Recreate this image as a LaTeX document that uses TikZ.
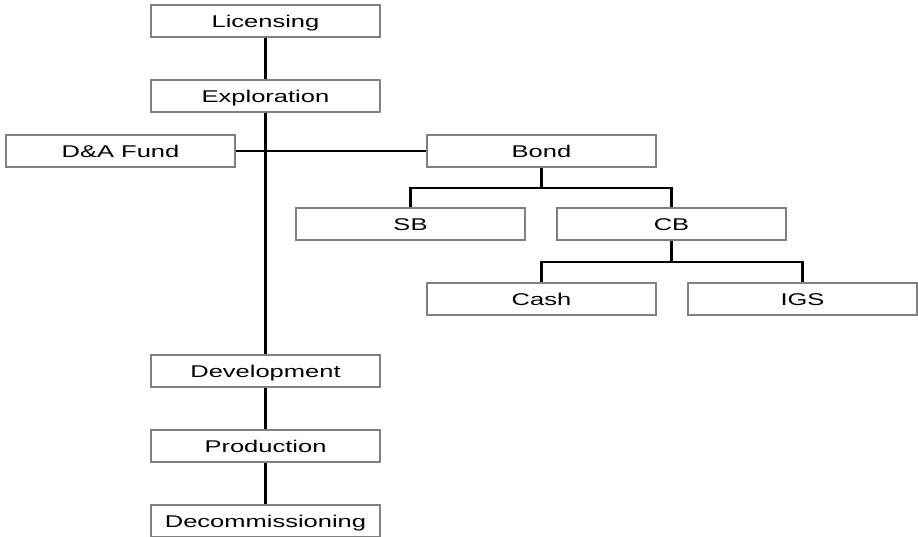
\documentclass[tikz,border=0pt]{standalone}
\usepackage{fontspec}
\newfontfamily\boxfont[FakeStretch=1.5]{Liberation Sans}
\usetikzlibrary{calc}
\tikzset{
  stage/.style={draw=black!50, line width=2pt, fill=white, minimum width=229pt, minimum height=32pt, inner sep=0pt, text height=13pt, text depth=0pt, font=\boxfont\fontsize{17}{19}\selectfont},
  link/.style={line width=2.3pt, color=black}
}

\begin{document}
\begin{tikzpicture}[x=1pt, y=-1pt]
			%%%%% START %%%%%
			
			\useasboundingbox (0, 0) rectangle (918, 536);
			
			\node[stage] (licensing) at (265.5, 20.5) {Licensing};
			\node[stage] (exploration) at (265.5, 95.5) {Exploration};
			\node[stage] (fund) at (120.5, 151) {D\&A Fund};
			\node[stage] (bond) at (541.5, 151) {Bond};
			\node[stage] (sb) at (410.5, 224) {SB};
			\node[stage] (cb) at (671.5, 224) {CB};
			\node[stage] (cash) at (541.5, 299) {Cash};
			\node[stage] (igs) at (802.5, 299) {IGS};
			\node[stage] (development) at (265.5, 371) {Development};
			\node[stage] (production) at (265.5, 446) {Production};
			\node[stage] (decommissioning) at (265.5, 521) {Decommissioning};
			
			\draw[link] (licensing) -- (exploration);
			\draw[link] (exploration) -- (development);
			\draw[link] (development) -- (production);
			\draw[link] (production) -- (decommissioning);
			\draw[link] (fund) -- (bond);
			
			\draw[link] (bond.south) -- ++(0, 20) coordinate (bondsplit) -| (sb.north);
			\draw[link] (bondsplit) -| (cb.north);
			\draw[link] (cb.south) -- ++(0, 21) coordinate (cbsplit) -| (cash.north);
			\draw[link] (cbsplit) -| (igs.north);
			
			%%%%% END %%%%%
		\end{tikzpicture}
\end{document}
